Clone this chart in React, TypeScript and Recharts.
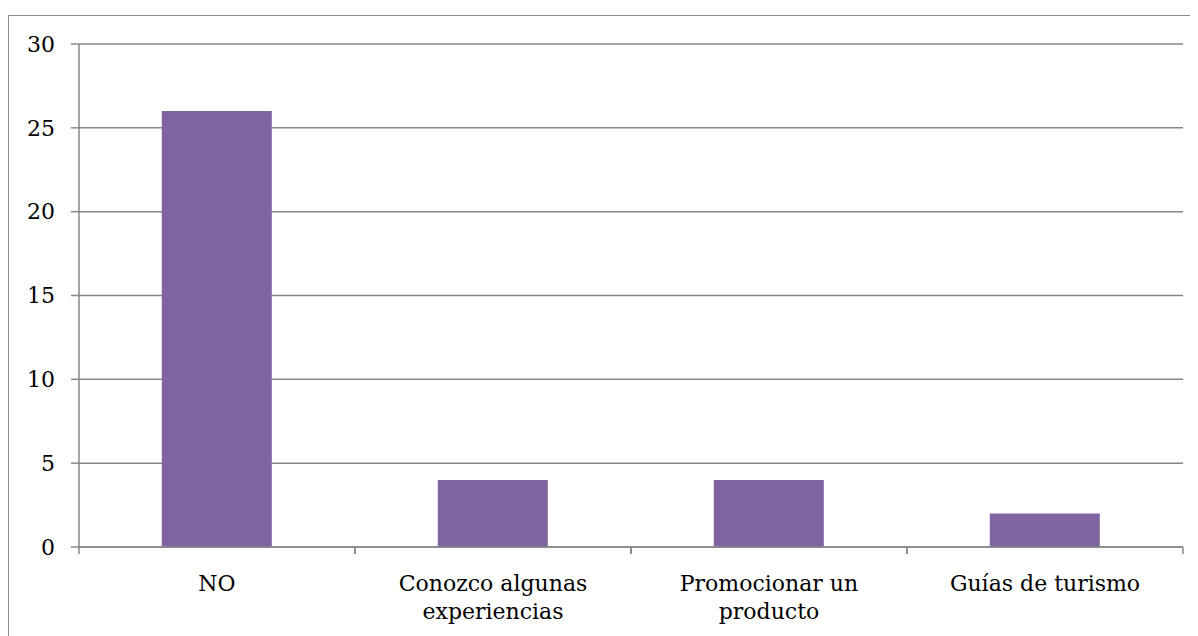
import React from 'react';
import { BarChart, Bar, XAxis, YAxis, CartesianGrid } from 'recharts';

const categories = ['NO', 'Conozco algunas experiencias', 'Promocionar un producto', 'Guías de turismo'];
const counts = [26, 4, 4, 2];
const yTicks = [0, 5, 10, 15, 20, 25, 30];
// tick labels, broken into lines the way the original chart shows them
const tickLabels: Record<string, string[]> = {
  'NO': ['NO'],
  'Conozco algunas experiencias': ['Conozco algunas', 'experiencias'],
  'Promocionar un producto': ['Promocionar un', 'producto'],
  'Guías de turismo': ['Guías de turismo'],
};

const data = categories.map((name, i) => ({ name, value: counts[i] }));

const AXIS = '#878787';
const FONT = 'DejaVu Serif';
const TICK_GAP = 8; // tickSize + tickMargin of the category axis

// label plus the little marks on the category boundaries (Excel style)
const CategoryTick = (props: any) => {
  const { x, y, payload } = props;
  const lines = tickLabels[payload.value] || [payload.value];
  const half = payload.offset || 0;
  const axisY = y - TICK_GAP;
  return (
    <g>
      {half > 0 && (
        <g stroke={AXIS} strokeWidth={1.5}>
          <line x1={x - half} x2={x - half} y1={axisY} y2={axisY + 7} />
          <line x1={x + half} x2={x + half} y1={axisY} y2={axisY + 7} />
        </g>
      )}
      <text x={x} y={y + 36} textAnchor="middle" fontFamily={FONT} fontSize={22} fill="#000">
        {lines.map((line, i) => (
          <tspan key={i} x={x} dy={i === 0 ? 0 : 28}>
            {line}
          </tspan>
        ))}
      </text>
    </g>
  );
};

export default function App() {
  return (
    <div
      style={{
        position: 'relative',
        top: 7,
        width: 1200,
        height: 640,
        border: '1px solid #8e8e8e',
        fontFamily: FONT,
      }}
    >
      <BarChart
        width={1190}
        height={620}
        data={data}
        margin={{ top: 28, right: 16, bottom: 0, left: 0 }}
        barCategoryGap="30%"
      >
        <CartesianGrid vertical={false} stroke={AXIS} strokeWidth={1.5} />
        <XAxis
          dataKey="name"
          height={89}
          axisLine={{ stroke: AXIS, strokeWidth: 1.5 }}
          tickLine={false}
          tick={<CategoryTick />}
          interval={0}
        />
        <YAxis
          width={70}
          domain={[0, 30]}
          ticks={yTicks}
          allowDataOverflow
          axisLine={{ stroke: AXIS, strokeWidth: 1.5 }}
          tickLine={{ stroke: AXIS, strokeWidth: 1.5 }}
          tickSize={8}
          tickMargin={16}
          tick={{ fill: '#000', fontSize: 22, fontFamily: FONT }}
        />
        <Bar dataKey="value" fill="#8064A2" isAnimationActive={false} />
      </BarChart>
    </div>
  );
}
